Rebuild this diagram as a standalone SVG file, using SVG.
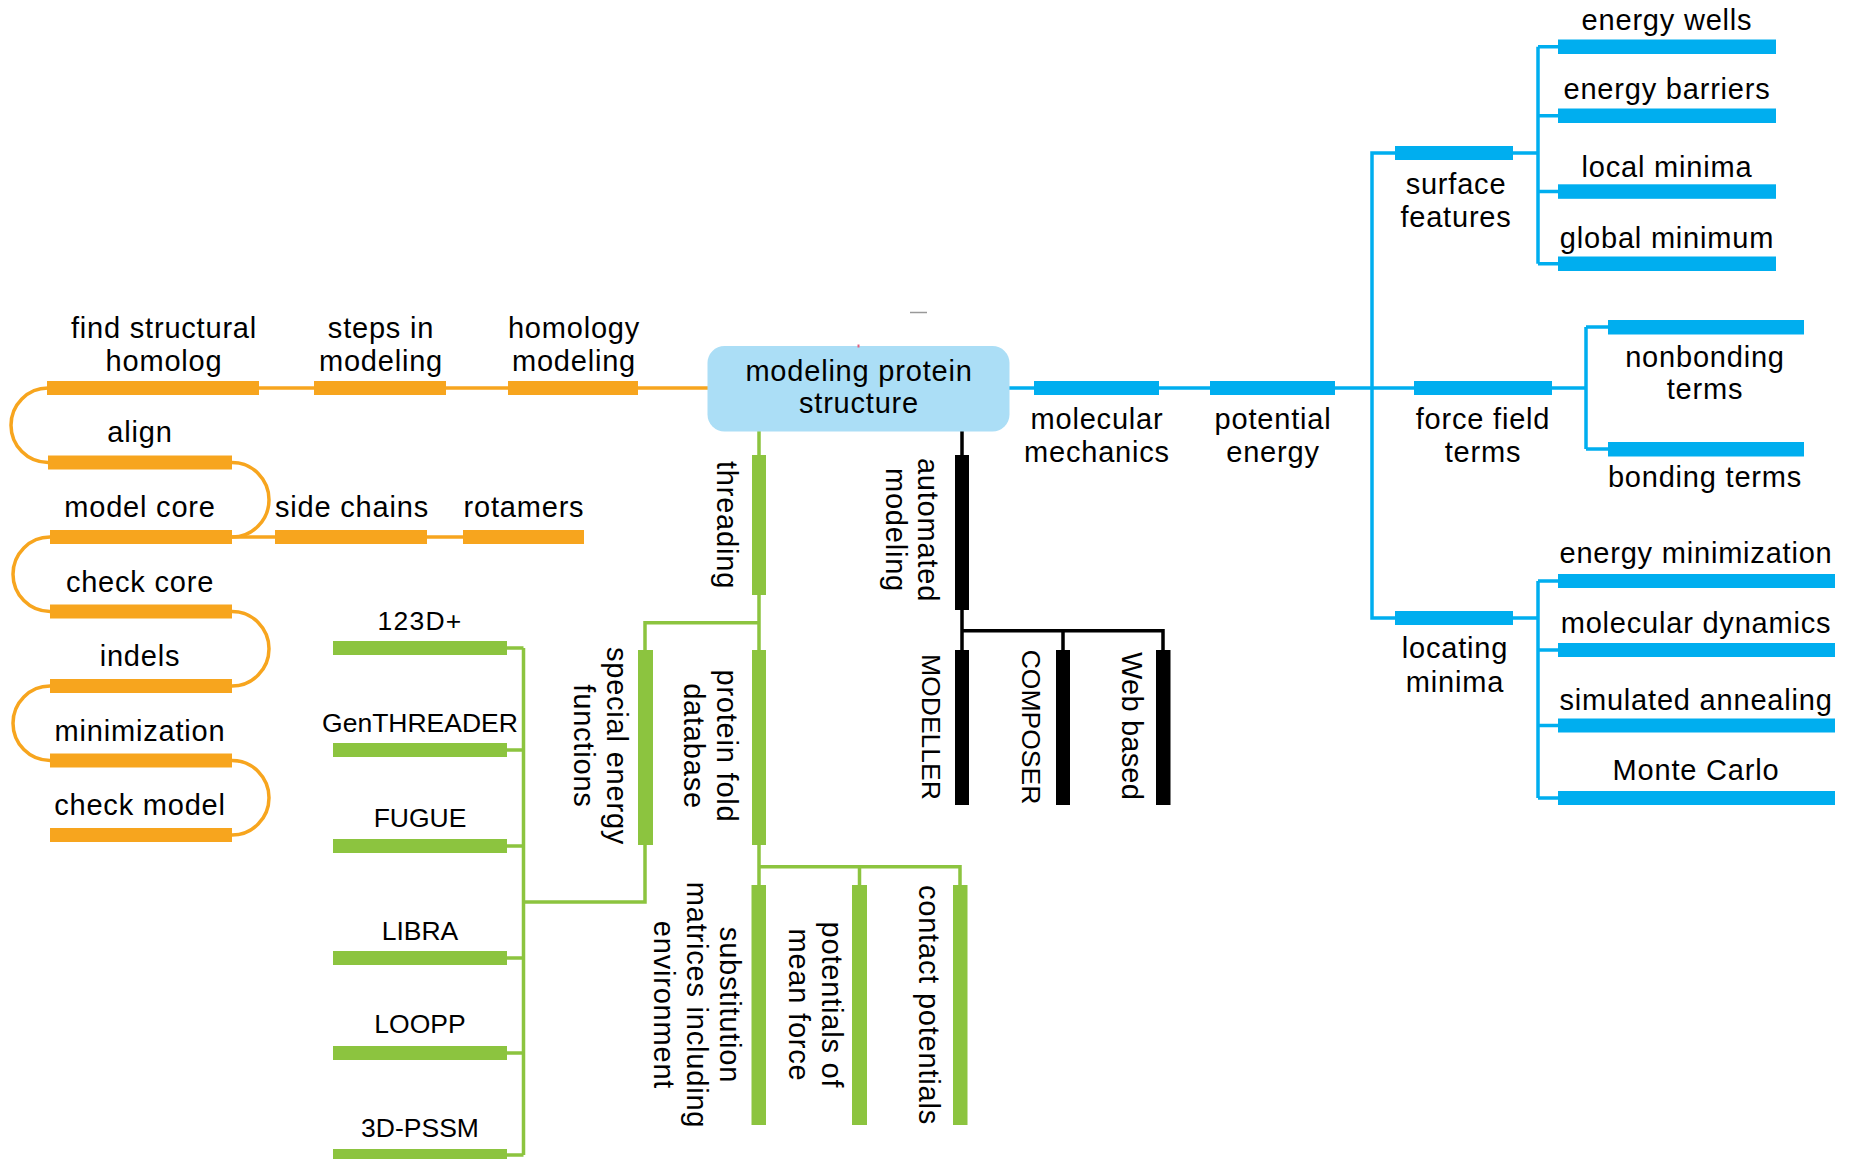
<svg xmlns="http://www.w3.org/2000/svg" width="1849" height="1159" viewBox="0 0 1849 1159">
<style>
.t{font-family:"Liberation Sans",Arial,sans-serif;font-size:29px;letter-spacing:0.8px;fill:#000;text-anchor:middle}
.c{font-size:26.5px;letter-spacing:0}
.o{fill:#F7A51E}.g{fill:#8CC43F}.b{fill:#00AEEF}.k{fill:#000}
.lo{stroke:#F7A51E;stroke-width:3.5;fill:none}
.lg{stroke:#8CC43F;stroke-width:3.5;fill:none}
.lb{stroke:#00AEEF;stroke-width:3.5;fill:none}
.lk{stroke:#000;stroke-width:3.5;fill:none}
</style>
<rect width="1849" height="1159" fill="#fff"/>
<g id="connectors">
  <path class="lo" d="M47 388H708"/>
  <path class="lo" d="M48 388A37 37.25 0 0 0 48 462.5"/>
  <path class="lo" d="M232 462.5A37 37.25 0 0 1 232 537"/>
  <path class="lo" d="M50 537A37 37.25 0 0 0 50 611.5"/>
  <path class="lo" d="M232 611.5A37 37.25 0 0 1 232 686"/>
  <path class="lo" d="M50 686A37 37.25 0 0 0 50 760.5"/>
  <path class="lo" d="M232 760.5A37 37.25 0 0 1 232 835"/>
  <path class="lo" d="M232 537H463"/>
  <path class="lb" d="M1009 388H1586M1586 327V449M1586 327H1608M1586 449H1608"/>
  <path class="lb" d="M1395 153H1372V618H1395"/>
  <path class="lb" d="M1513 153H1538M1538 46.7V263.7M1538 46.7H1558M1538 115.7H1558M1538 191.5H1558M1538 263.7H1558"/>
  <path class="lb" d="M1513 618H1538M1538 581V798M1538 581H1558M1538 650H1558M1538 725.5H1558M1538 798H1558"/>
  <path class="lg" d="M759 431V885M759 622.7H645V902H523.5M759 866.7H960V885M859.5 866.7V885"/>
  <path class="lg" d="M523.5 648V1155M507 648H523.5M507 750H523.5M507 846H523.5M507 958H523.5M507 1053H523.5M507 1155H523.5"/>
  <path class="lk" d="M962 431V650M962 630.7H1163V650M1063 630.7V650"/>
</g>
<g id="center">
  <rect x="707.5" y="346" width="302" height="85.5" rx="17" fill="#ABDEF6"/>
  <text class="t"><tspan x="859" y="381">modeling protein</tspan><tspan x="859" y="413">structure</tspan></text>
</g>
<g id="artifacts">
  <path d="M858.5 344.5V347.5" stroke="#E0607E" stroke-width="2"/>
  <path d="M910 312.5H927" stroke="#999" stroke-width="1.5"/>
</g>
<g id="find-structural-homolog"><rect class="o" x="47" y="381" width="212" height="14"/><text class="t"><tspan x="164" y="337.5">find structural</tspan><tspan x="164" y="370.5">homolog</tspan></text></g>
<g id="steps-in-modeling"><rect class="o" x="314" y="381" width="132" height="14"/><text class="t"><tspan x="381" y="337.5">steps in</tspan><tspan x="381" y="370.5">modeling</tspan></text></g>
<g id="homology-modeling"><rect class="o" x="508" y="381" width="130" height="14"/><text class="t"><tspan x="574" y="337.5">homology</tspan><tspan x="574" y="370.5">modeling</tspan></text></g>
<g id="align"><rect class="o" x="48" y="455.5" width="184" height="14"/><text class="t" x="140" y="442">align</text></g>
<g id="model-core"><rect class="o" x="50" y="530" width="182" height="14"/><text class="t" x="140" y="517">model core</text></g>
<g id="side-chains"><rect class="o" x="275" y="530" width="152" height="14"/><text class="t" x="352" y="517">side chains</text></g>
<g id="rotamers"><rect class="o" x="463" y="530" width="121" height="14"/><text class="t" x="524" y="517">rotamers</text></g>
<g id="check-core"><rect class="o" x="50" y="604.5" width="182" height="14"/><text class="t" x="140" y="591.5">check core</text></g>
<g id="indels"><rect class="o" x="50" y="679" width="182" height="14"/><text class="t" x="140" y="666">indels</text></g>
<g id="minimization"><rect class="o" x="50" y="753.5" width="182" height="14"/><text class="t" x="140" y="740.5">minimization</text></g>
<g id="check-model"><rect class="o" x="50" y="828" width="182" height="14"/><text class="t" x="140" y="815">check model</text></g>

<g id="molecular-mechanics"><rect class="b" x="1034" y="381" width="125" height="14"/><text class="t"><tspan x="1097" y="429">molecular</tspan><tspan x="1097" y="461.5">mechanics</tspan></text></g>
<g id="potential-energy"><rect class="b" x="1210" y="381" width="125" height="14"/><text class="t"><tspan x="1273" y="429">potential</tspan><tspan x="1273" y="461.5">energy</tspan></text></g>
<g id="surface-features"><rect class="b" x="1395" y="146" width="118" height="14"/><text class="t"><tspan x="1456" y="194">surface</tspan><tspan x="1456" y="227">features</tspan></text></g>
<g id="energy-wells"><rect class="b" x="1558" y="39.5" width="218" height="14.5"/><text class="t" x="1667" y="29.5">energy wells</text></g>
<g id="energy-barriers"><rect class="b" x="1558" y="108.5" width="218" height="14.5"/><text class="t" x="1667" y="99">energy barriers</text></g>
<g id="local-minima"><rect class="b" x="1558" y="184.3" width="218" height="14.5"/><text class="t" x="1667" y="176.5">local minima</text></g>
<g id="global-minimum"><rect class="b" x="1558" y="256.5" width="218" height="14.5"/><text class="t" x="1667" y="247.5">global minimum</text></g>
<g id="force-field-terms"><rect class="b" x="1414" y="381" width="138" height="14"/><text class="t"><tspan x="1483" y="428.5">force field</tspan><tspan x="1483" y="461.5">terms</tspan></text></g>
<g id="nonbonding-terms"><rect class="b" x="1608" y="320" width="196" height="14.5"/><text class="t"><tspan x="1705" y="366.5">nonbonding</tspan><tspan x="1705" y="399">terms</tspan></text></g>
<g id="bonding-terms"><rect class="b" x="1608" y="442" width="196" height="14.5"/><text class="t" x="1705" y="487">bonding terms</text></g>
<g id="locating-minima"><rect class="b" x="1395" y="611" width="118" height="14"/><text class="t"><tspan x="1455" y="658">locating</tspan><tspan x="1455" y="691.5">minima</tspan></text></g>
<g id="energy-minimization"><rect class="b" x="1558" y="574" width="277" height="14"/><text class="t" x="1696" y="563">energy minimization</text></g>
<g id="molecular-dynamics"><rect class="b" x="1558" y="643" width="277" height="14"/><text class="t" x="1696" y="633">molecular dynamics</text></g>
<g id="simulated-annealing"><rect class="b" x="1558" y="718.5" width="277" height="14"/><text class="t" x="1696" y="710">simulated annealing</text></g>
<g id="monte-carlo"><rect class="b" x="1558" y="791" width="277" height="14"/><text class="t" x="1696" y="780">Monte Carlo</text></g>

<g id="threading"><rect class="g" x="752" y="455" width="14" height="140"/><text class="t" transform="translate(717 525) rotate(90)">threading</text></g>
<g id="special-energy-functions"><rect class="g" x="638" y="650" width="15" height="195"/><text class="t" transform="translate(607 746) rotate(90)"><tspan x="0" y="0">special energy</tspan><tspan x="0" dy="33">functions</tspan></text></g>
<g id="protein-fold-database"><rect class="g" x="752" y="650" width="14" height="195"/><text class="t" transform="translate(717 746) rotate(90)"><tspan x="0" y="0">protein fold</tspan><tspan x="0" dy="33">database</tspan></text></g>
<g id="substitution-matrices"><rect class="g" x="751.5" y="885" width="14.5" height="240"/><text class="t" transform="translate(720 1005) rotate(90)"><tspan x="0" y="0">substitution</tspan><tspan x="0" dy="33">matrices including</tspan><tspan x="0" dy="33">environment</tspan></text></g>
<g id="potentials-of-mean-force"><rect class="g" x="852" y="885" width="15" height="240"/><text class="t" transform="translate(822 1005) rotate(90)"><tspan x="0" y="0">potentials of</tspan><tspan x="0" dy="33">mean force</tspan></text></g>
<g id="contact-potentials"><rect class="g" x="953" y="885" width="14.5" height="240"/><text class="t" transform="translate(919 1005) rotate(90)">contact potentials</text></g>
<g id="n123d"><rect class="g" x="333" y="641" width="174" height="14"/><text class="t c" x="420" y="630" style="letter-spacing:1.2px">123D+</text></g>
<g id="genthreader"><rect class="g" x="333" y="743" width="174" height="14"/><text class="t c" x="420" y="732">GenTHREADER</text></g>
<g id="fugue"><rect class="g" x="333" y="839" width="174" height="14"/><text class="t c" x="420" y="827">FUGUE</text></g>
<g id="libra"><rect class="g" x="333" y="951" width="174" height="14"/><text class="t c" x="420" y="940">LIBRA</text></g>
<g id="loopp"><rect class="g" x="333" y="1046" width="174" height="14"/><text class="t c" x="420" y="1033">LOOPP</text></g>
<g id="pssm"><rect class="g" x="333" y="1149" width="174" height="14"/><text class="t c" x="420" y="1137">3D-PSSM</text></g>

<g id="automated-modeling"><rect class="k" x="955" y="455" width="14" height="155"/><text class="t" transform="translate(918 530) rotate(90)"><tspan x="0" y="0">automated</tspan><tspan x="0" dy="32">modeling</tspan></text></g>
<g id="modeller"><rect class="k" x="955" y="650" width="14" height="155"/><text class="t c" transform="translate(922 727) rotate(90)">MODELLER</text></g>
<g id="composer"><rect class="k" x="1056" y="650" width="14" height="155"/><text class="t c" transform="translate(1022 727) rotate(90)">COMPOSER</text></g>
<g id="web-based"><rect class="k" x="1156" y="650" width="14.5" height="155"/><text class="t" transform="translate(1122 726) rotate(90)" style="letter-spacing:0.2px">Web based</text></g>
</svg>
